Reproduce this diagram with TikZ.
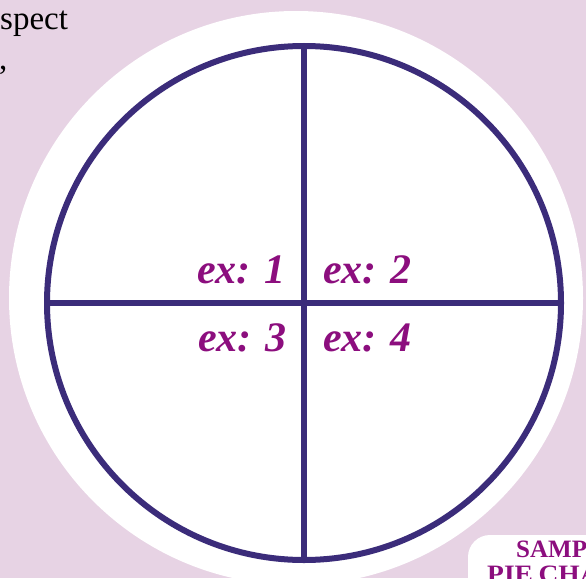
\documentclass[tikz,border=0pt]{standalone}
\usepackage{fontspec}
\setmainfont{Liberation Serif}
\definecolor{bgpink}{HTML}{E7D3E4}
\definecolor{ringpurple}{HTML}{3B2C7A}
\definecolor{labelmag}{HTML}{8C0E7E}
\begin{document}
\begin{tikzpicture}[x=1pt,y=-1pt,
  exlabel/.style={inner sep=0pt,text=labelmag,font=\fontsize{42}{42}\selectfont\bfseries\itshape},
  bodytext/.style={inner sep=0pt,text=black,font=\fontsize{33}{40}\selectfont},
  titletext/.style={inner sep=0pt,text=labelmag,font=\fontsize{25}{25}\selectfont\bfseries},
  ring/.style={draw=ringpurple,line width=6pt}]
\useasboundingbox (0,0) rectangle (586,578);
\begin{scope}
\clip (0,0) rectangle (586,578);
\fill[bgpink] (0,0) rectangle (586,578);
% body text fragments
\node[bodytext,anchor=base west] (t1) at (0,30) {spect};
\node[bodytext,anchor=base west] (t2) at (-1,70) {,};
\node[bodytext,anchor=base east] (t3) at (1.5,452) {e};
% white disc
\fill[white] (296,298) circle[radius=287];
% pie chart
\coordinate (c) at (304,303);
\draw[ring] (c) circle[radius=257];
\coordinate (top) at (304,46);
\coordinate (bot) at (304,560);
\coordinate (lft) at (47,303);
\coordinate (rgt) at (561,303);
\draw[ring] (top) -- (bot);
\draw[ring] (lft) -- (rgt);
\node[exlabel,anchor=base east] (e1) at (286,283) {ex: 1};
\node[exlabel,anchor=base west] (e2) at (323,283) {ex: 2};
\node[exlabel,anchor=base east] (e3) at (287,351) {ex: 3};
\node[exlabel,anchor=base west] (e4) at (323,351) {ex: 4};
% title box
\fill[white,rounded corners=22pt] (468,535) rectangle (640,620);
\node[titletext,anchor=base west] (s1) at (516,557) {SAMPLE};
\node[titletext,anchor=base west,xscale=1.1] (s2) at (487,582) {PIE\hspace{5pt}CHART};
\end{scope}
\end{tikzpicture}
\end{document}
